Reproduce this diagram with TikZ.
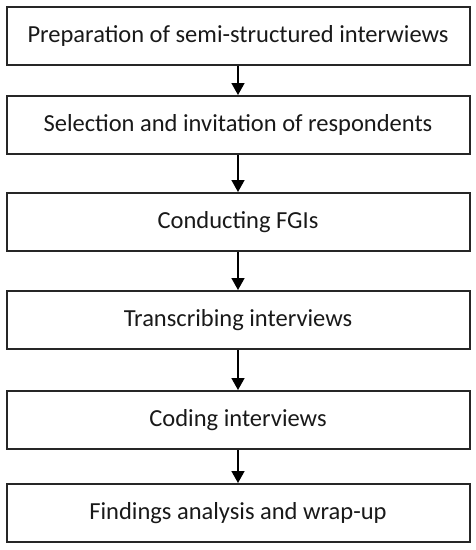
\documentclass[tikz,border=0pt]{standalone}
\usepackage{fontspec}
\setmainfont{Carlito}
\usetikzlibrary{arrows.meta}
\begin{document}
\begin{tikzpicture}[x=1pt,y=-1pt,
  stepbox/.style={draw=black!85, line width=2pt, minimum width=463pt, minimum height=58pt, inner sep=0pt, font=\fontsize{24.5}{28}\selectfont, text=black!90},
  flow/.style={draw=black, line width=1.6pt, -{Triangle[length=12pt,width=13pt]}}]
\useasboundingbox (0,0) rectangle (475,550);
\node[stepbox] (b1) at (238,35.5) {Preparation of semi-structured interwiews};
\node[stepbox] (b2) at (238,125) {Selection and invitation of respondents};
\node[stepbox] (b3) at (238,222) {Conducting FGIs};
\node[stepbox] (b4) at (238,320) {Transcribing interviews};
\node[stepbox] (b5) at (238,420) {Coding interviews};
\node[stepbox] (b6) at (238,513) {Findings analysis and wrap-up};
\draw[flow] (b1) -- (b2);
\draw[flow] (b2) -- (b3);
\draw[flow] (b3) -- (b4);
\draw[flow] (b4) -- (b5);
\draw[flow] (b5) -- (b6);
\end{tikzpicture}
\end{document}
